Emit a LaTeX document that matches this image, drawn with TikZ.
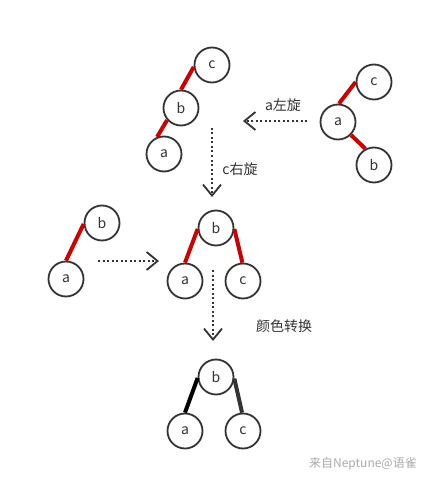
\documentclass[tikz,border=0pt]{standalone}
\usepackage{fontspec}
\setmainfont{Noto Sans CJK SC}
\usetikzlibrary{arrows.meta}
\definecolor{ink}{HTML}{333333}
\definecolor{redline}{HTML}{CC0000}
\definecolor{wm}{HTML}{AAAAAA}
\begin{document}
\begin{tikzpicture}[x=1pt,y=-1pt,
  nd/.style={circle,draw=ink,line width=1.8pt,fill=white,minimum size=35pt,inner sep=0pt,text=ink,font=\fontsize{14}{16}\selectfont},
  redge/.style={draw=redline,line width=4pt},
  bedge/.style={draw=black,line width=4pt},
  gedge/.style={draw=ink,line width=4pt},
  flow/.style={draw=ink,line width=1.8pt,dash pattern=on 2pt off 2.5pt,-{Straight Barb[length=11pt,width=18pt,line width=1.8pt]}},
  lbl/.style={text=ink,font=\fontsize{14}{16}\selectfont}]
\fill[white] (0,0) rectangle (424,481);
\useasboundingbox (0,0) rectangle (424,481);

% top-left tree
\node[nd] (tc) at (212,65) {c};
\node[nd] (tb) at (181,108) {b};
\node[nd] (ta) at (164,154) {a};
\draw[redge] (tc.186) -- (tb.90);
\draw[redge] (tb.221) -- (ta.112);

% right tree
\node[nd] (rc) at (374,82) {c};
\node[nd] (ra) at (338,122) {a};
\node[nd] (rb) at (374,165) {b};
\draw[redge] (ra.87) -- (rc.180);
\draw[redge] (ra.315) -- (rb.118);

% left pair
\node[nd] (lb) at (102,223) {b};
\node[nd] (la) at (66,279) {a};
\draw[redge] (lb.183) -- (la.90);

% middle tree
\node[nd] (mb) at (216,228) {b};
\node[nd] (ma) at (185,281) {a};
\node[nd] (mc) at (243,281) {c};
\draw[redge] (mb.183) -- (ma.90);
\draw[redge] (mb.357) -- (mc.92);

% bottom tree
\node[nd] (bb) at (216,377) {b};
\node[nd] (ba) at (185,431) {a};
\node[nd] (bc) at (243,431) {c};
\draw[bedge] (bb.183) -- (ba.90);
\draw[gedge] (bb.355) -- (bc.93);

% arrows
\coordinate (h1s) at (307,121);
\coordinate (h1e) at (243,121);
\draw[flow] (h1s) -- (h1e);
\node[lbl] (l1) at (283,105) {a左旋};

\coordinate (v1s) at (212,128);
\coordinate (v1e) at (212,197);
\draw[flow] (v1s) -- (v1e);
\node[lbl] (l2) at (240,169) {c右旋};

\coordinate (h2s) at (98,261);
\coordinate (h2e) at (159,261);
\draw[flow] (h2s) -- (h2e);

\coordinate (v2s) at (213,270);
\coordinate (v2e) at (213,341);
\draw[flow] (v2s) -- (v2e);
\node[lbl] (l3) at (284,326) {颜色转换};

\node[text=wm,font=\fontsize{12}{14}\selectfont] (wmk) at (363,464) {来自Neptune@语雀};
\end{tikzpicture}
\end{document}
